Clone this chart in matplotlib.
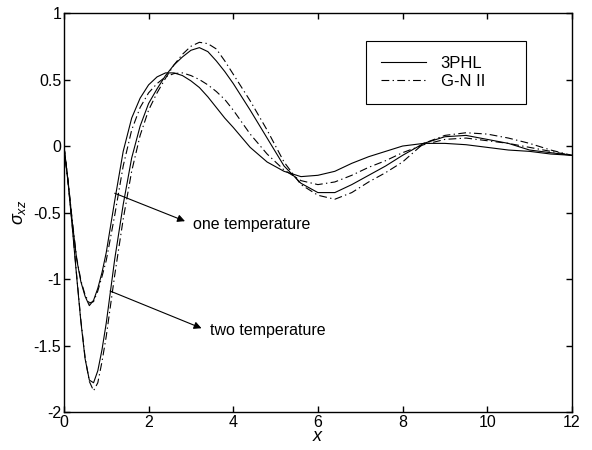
import numpy as np
import matplotlib
matplotlib.use("Agg")
from matplotlib import pyplot as plt

plt.rcParams['font.family'] = ['Liberation Sans', 'DejaVu Sans']
plt.rcParams['mathtext.fontset'] = 'custom'
plt.rcParams['mathtext.it'] = 'Liberation Sans:italic'
plt.rcParams['mathtext.rm'] = 'Liberation Sans'

x = [0, 0.1, 0.2, 0.3, 0.4, 0.5, 0.6, 0.7, 0.8, 0.9, 1.0, 1.2, 1.4, 1.6, 1.8,
     2.0, 2.2, 2.4, 2.6, 2.8, 3.0, 3.2, 3.4, 3.6, 3.8, 4.0, 4.4, 4.8, 5.2, 5.6,
     6.0, 6.4, 6.8, 7.2, 7.6, 8.0, 8.5, 9.0, 9.5, 10.0, 10.5, 11.0, 11.5, 12.0]

# one temperature
one_3phl = [0, -0.27, -0.58, -0.85, -1.02, -1.13, -1.20, -1.16, -1.07, -0.95, -0.80,
            -0.41, -0.04, 0.21, 0.36, 0.46, 0.52, 0.55, 0.55, 0.53, 0.49, 0.44,
            0.37, 0.29, 0.21, 0.14, -0.01, -0.12, -0.19, -0.23, -0.22, -0.19,
            -0.13, -0.08, -0.04, 0.0, 0.02, 0.02, 0.01, -0.01, -0.03, -0.04, -0.06, -0.07]
one_gn2 = [0, -0.27, -0.57, -0.84, -1.01, -1.12, -1.18, -1.17, -1.09, -0.98, -0.86,
           -0.52, -0.15, 0.12, 0.29, 0.40, 0.47, 0.52, 0.545, 0.55, 0.53, 0.50,
           0.46, 0.41, 0.35, 0.27, 0.09, -0.06, -0.18, -0.26, -0.29, -0.27,
           -0.22, -0.16, -0.11, -0.05, 0.01, 0.05, 0.06, 0.04, 0.02, -0.01, -0.04, -0.07]

# two temperature
two_3phl = [0, -0.28, -0.62, -0.98, -1.32, -1.60, -1.76, -1.78, -1.69, -1.53, -1.33,
            -0.85, -0.44, -0.09, 0.15, 0.32, 0.43, 0.53, 0.61, 0.67, 0.72, 0.74,
            0.71, 0.64, 0.56, 0.47, 0.27, 0.06, -0.15, -0.28, -0.35, -0.35,
            -0.29, -0.22, -0.15, -0.07, 0.02, 0.07, 0.08, 0.05, 0.02, -0.03, -0.05, -0.07]
two_gn2 = [0, -0.28, -0.61, -0.97, -1.31, -1.59, -1.77, -1.84, -1.78, -1.62, -1.43,
           -0.97, -0.55, -0.19, 0.08, 0.27, 0.40, 0.51, 0.61, 0.69, 0.75, 0.78,
           0.77, 0.73, 0.64, 0.54, 0.34, 0.12, -0.12, -0.29, -0.37, -0.40,
           -0.35, -0.27, -0.20, -0.12, 0.02, 0.08, 0.10, 0.09, 0.06, 0.02, -0.03, -0.07]

dashdot = (0, (7, 3, 1.2, 3))

fig = plt.figure(figsize=(5.92, 4.5), dpi=100)
ax = fig.add_axes([0.108, 0.0844, 0.858, 0.8866])

ax.plot(x, one_3phl, color='k', linewidth=0.8, linestyle='-', label='3PHL')
ax.plot(x, one_gn2, color='k', linewidth=0.8, linestyle=dashdot, label='G-N II')
ax.plot(x, two_3phl, color='k', linewidth=0.8, linestyle='-')
ax.plot(x, two_gn2, color='k', linewidth=0.8, linestyle=dashdot)

arrow = dict(arrowstyle='-|>', color='k', lw=0.8, mutation_scale=11,
             shrinkA=0, shrinkB=0)
ax.annotate('', xy=(2.86, -0.565), xytext=(1.20, -0.355), arrowprops=arrow)
ax.text(3.05, -0.59, 'one temperature', fontsize=11.5, va='center', ha='left')
ax.annotate('', xy=(3.25, -1.37), xytext=(1.09, -1.09), arrowprops=arrow)
ax.text(3.45, -1.39, 'two temperature', fontsize=11.5, va='center', ha='left')

ax.set_xlim(0, 12)
ax.set_ylim(-2, 1)
ax.set_xticks([0, 2, 4, 6, 8, 10, 12])
ax.set_yticks([-2, -1.5, -1, -0.5, 0, 0.5, 1])
ax.set_yticklabels(['-2', '-1.5', '-1', '-0.5', '0', '0.5', '1'])
ax.tick_params(direction='in', top=True, right=True, length=4, width=1,
               labelsize=11.5, pad=2)
for s in ax.spines.values():
    s.set_linewidth(1.0)

ax.set_xlabel(r'$x$', fontsize=13, labelpad=-1)
ax.set_ylabel(r'$\sigma_{xz}$', fontsize=13, labelpad=4)

leg = ax.legend(loc='upper left', bbox_to_anchor=(0.594, 0.769, 0.315, 0.161),
                mode='expand', fontsize=12,
                frameon=True, fancybox=False, edgecolor='k', framealpha=1,
                handlelength=2.7, borderpad=0.9, labelspacing=0.2,
                handletextpad=0.9, borderaxespad=0)
leg.get_frame().set_linewidth(0.8)

plt.savefig('out.png', dpi=100)
